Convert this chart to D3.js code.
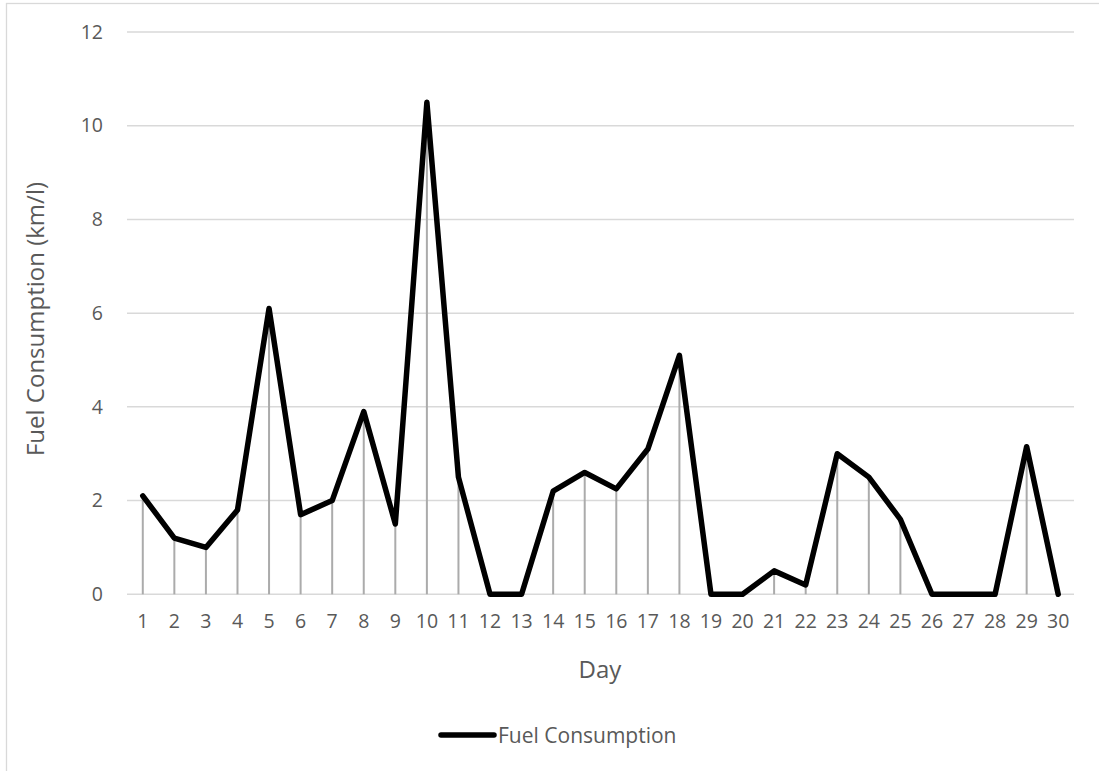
<!DOCTYPE html>
<html>
<head>
<meta charset="utf-8">
<script src="https://cdn.jsdelivr.net/npm/d3@7"></script>
<style>
  html, body { margin: 0; padding: 0; background: #fff; }
  svg { display: block; }
  text { font-family: "Open Sans", Lato, sans-serif; fill: #595959; }
</style>
</head>
<body>
<svg id="chart" width="1099" height="771"></svg>
<script>
// Daily fuel consumption readings
const days = d3.range(1, 31).map(String);
const fuel = [2.1, 1.2, 1.0, 1.8, 6.1, 1.7, 2.0, 3.9, 1.5, 10.5,
              2.5, 0, 0, 2.2, 2.6, 2.25, 3.1, 5.1, 0, 0,
              0.5, 0.2, 3.0, 2.5, 1.6, 0, 0, 0, 3.15, 0];
const yTicks = [0, 2, 4, 6, 8, 10, 12];
const seriesName = "Fuel Consumption";
const xTitle = "Day";
const yTitle = "Fuel Consumption (km/l)";

const FONT = "'Open Sans', Lato, sans-serif";
const svg = d3.select("#chart");
const W = 1099, H = 771;
const plot = { left: 127, right: 1074, top: 32, bottom: 594.3 };

// outer chart frame
svg.append("rect")
  .attr("x", 6.5).attr("y", 3.5)
  .attr("width", W + 20).attr("height", H + 20)
  .attr("fill", "none").attr("stroke", "#d9d9d9").attr("stroke-width", 1.3);

const x = d3.scaleBand().domain(days).range([plot.left, plot.right]);
const y = d3.scaleLinear().domain([0, 12]).range([plot.bottom, plot.top]);
const cx = d => x(d) + x.bandwidth() / 2;

// horizontal gridlines
svg.append("g").selectAll("line").data(yTicks).join("line")
  .attr("x1", plot.left).attr("x2", plot.right)
  .attr("y1", d => y(d)).attr("y2", d => y(d))
  .attr("stroke", "#d9d9d9").attr("stroke-width", 1.5);

// y tick labels
const yAxis = svg.append("g")
  .attr("transform", `translate(${plot.left},0)`)
  .call(d3.axisLeft(y).tickValues(yTicks).tickSize(0).tickPadding(24));
yAxis.select(".domain").remove();
yAxis.selectAll("text").attr("font-size", 19.5).style("font-family", FONT).attr("fill", "#595959");

// x tick labels
const xAxis = svg.append("g")
  .attr("transform", `translate(0,${plot.bottom})`)
  .call(d3.axisBottom(x).tickSize(0).tickPadding(20));
xAxis.select(".domain").remove();
xAxis.selectAll("text").attr("font-size", 19.5).style("font-family", FONT).attr("fill", "#595959");

// drop lines from each reading down to zero
svg.append("g").selectAll("line").data(fuel).join("line")
  .attr("x1", (d, i) => cx(days[i])).attr("x2", (d, i) => cx(days[i]))
  .attr("y1", d => y(d)).attr("y2", y(0))
  .attr("stroke", "#ababab").attr("stroke-width", 2);

// series line
const line = d3.line()
  .x((d, i) => cx(days[i]))
  .y(d => y(d));
svg.append("path")
  .datum(fuel)
  .attr("d", line)
  .attr("fill", "none")
  .attr("stroke", "#000")
  .attr("stroke-width", 5.5)
  .attr("stroke-linejoin", "round")
  .attr("stroke-linecap", "round");

// axis titles
svg.append("text")
  .attr("x", 600).attr("y", 668)
  .attr("text-anchor", "middle").attr("dominant-baseline", "central")
  .attr("font-size", 24).text(xTitle);

svg.append("text")
  .attr("transform", "translate(34,319) rotate(-90)")
  .attr("text-anchor", "middle").attr("dominant-baseline", "central")
  .attr("font-size", 24).text(yTitle);

// legend
const lg = svg.append("g").attr("transform", "translate(441,735)");
lg.append("line").attr("x1", 0).attr("x2", 53).attr("y1", 0).attr("y2", 0)
  .attr("stroke", "#000").attr("stroke-width", 5.5).attr("stroke-linecap", "round");
lg.append("text").attr("x", 57).attr("y", 0)
  .attr("dominant-baseline", "central").attr("font-size", 21).text(seriesName);
</script>
</body>
</html>
